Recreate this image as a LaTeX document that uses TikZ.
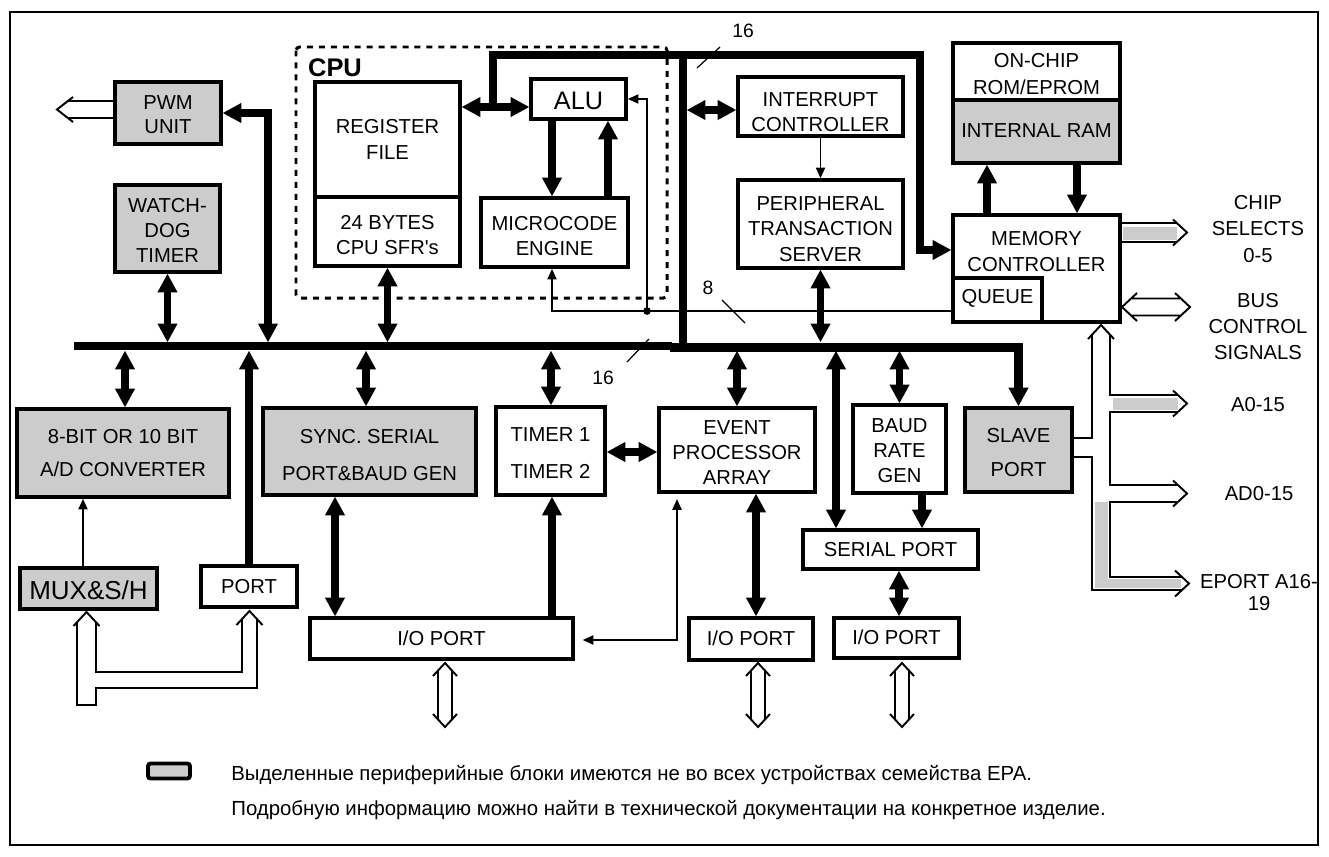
\documentclass[tikz,border=0pt]{standalone}
\usepackage{fontspec}
\setmainfont{Liberation Sans}[Ligatures=TeXOff]
\usetikzlibrary{arrows.meta}
\definecolor{boxgrey}{HTML}{CCCCCC}

\tikzset{
  fatTip/.tip={Triangle[length=10.5pt,width=11.5pt,line width=0pt]},
  slimTip/.tip={Triangle[length=6pt,width=5.5pt,line width=0pt]},
  box/.style={draw, line width=2.2pt, inner sep=0pt, fill=white},
  shaded/.style={fill=boxgrey},
  lab/.style={align=center, inner sep=0pt, font=\fontsize{11.5pt}{14.2pt}\selectfont},
  ls/.style={font=\fontsize{11.5pt}{#1}\selectfont},
  one/.style={line width=4.7pt},
  dbl/.style={line width=4.5pt, fatTip-fatTip},
  fine/.style={line width=1.1pt},
  tick/.style={line width=0.7pt},
  bus/.style={line width=4.8pt},
  vbus/.style={line width=4pt},
  hollow/.style={line width=1.1pt, line join=miter},
  num/.style={inner sep=0pt, font=\fontsize{11pt}{13pt}\selectfont},
  note/.style={anchor=base west, inner sep=0pt, font=\fontsize{11.6pt}{13pt}\selectfont},
}

% block: box options, name, x1, y1, x2, y2, text options, text shift, text
\newcommand\blk[9]{%
  \node[box,#1,minimum width={(#5-#3)*0.02cm},minimum height={(#6-#4)*0.02cm}]
    (#2) at ({(#3+#5)/2},{(#4+#6)/2}) {};
  \node[lab,#7] (#2-t) at ({(#3+#5)/2},{(#4+#6)/2+#8}) {#9};}

% two-headed hollow bus arrow hanging below an I/O port
\newcommand\hollowV[1]{%
  \draw[hollow] ({#1-7},670.6) -- ({#1-7},719.4) ({#1+7},670.6) -- ({#1+7},719.4)
    ({#1-12},676) -- (#1,663) -- ({#1+12},676)
    ({#1-12},714) -- (#1,727) -- ({#1+12},714);}

% open chevron head pointing right
\newcommand\chevR[2]{\draw[hollow] ({#1-14},{#2-13}) -- (#1,#2) -- ({#1-14},{#2+13});}

\begin{document}
\begin{tikzpicture}[x=0.02cm,y=-0.02cm]
\useasboundingbox (0,0) rectangle (1329,856);
\draw[line width=1.5pt] (10,12) rectangle (1318,845);

% bus edges
\coordinate (bT) at (0,342);
\coordinate (bB) at (0,351);

% CPU group
\draw[line width=1.7pt, dash pattern=on 3.4pt off 3.4pt, rounded corners=2pt] (296,47) rectangle (667,298);
\node[inner sep=0pt, font=\bfseries\fontsize{14.5pt}{16pt}\selectfont] (cpu) at (335,67.5) {CPU};

% blocks
\blk{shaded}{pwm}{115}{82}{221}{144}{ls=13.6pt}{2}{PWM\\UNIT}
\blk{shaded}{wd}{115}{185}{220}{272}{}{1.5}{WATCH-\\DOG\\TIMER}
\blk{}{reg}{315}{82}{460}{197}{ls=14.7pt}{0}{REGISTER\\FILE}
\blk{}{sfr}{315}{197}{460}{266}{}{4}{24 BYTES\\CPU SFR's}
\blk{}{alu}{531}{79}{626}{119}{font=\fontsize{14.4pt}{16pt}\selectfont}{1.5}{ALU}
\blk{}{mce}{481}{198}{628}{267}{ls=14.7pt}{3.5}{MICROCODE\\ENGINE}
\blk{}{ic}{738}{77}{903}{136}{ls=14.6pt}{5.5}{INTERRUPT\\CONTROLLER}
\blk{}{pts}{738}{180}{903}{268}{ls=14.5pt}{5}{PERIPHERAL\\TRANSACTION\\SERVER}
\blk{}{rom}{953}{43}{1120}{100}{ls=15pt}{2.5}{ON-CHIP\\ROM/EPROM}
\blk{shaded}{ram}{953}{100}{1120}{163}{}{-0.5}{INTERNAL RAM}
\blk{}{mc}{953}{215}{1120}{322}{ls=15pt}{-17}{MEMORY\\CONTROLLER}
\blk{}{queue}{953}{278}{1042}{322}{}{-2}{QUEUE}
\blk{shaded}{ad}{17}{409}{229}{497}{ls=19.3pt}{0}{8-BIT OR 10 BIT\\A/D CONVERTER}
\blk{shaded}{mux}{20}{568}{157}{609}{font=\fontsize{14.8pt}{16pt}\selectfont}{1.5}{MUX\&S/H}
\blk{}{port}{201}{566}{297}{607}{}{0}{PORT}
\blk{shaded}{sync}{263}{408}{476}{495}{ls=21.5pt}{3.5}{SYNC. SERIAL\\PORT\&BAUD GEN}
\blk{}{io1}{310}{618}{573}{659}{}{0}{I/O PORT}
\blk{}{tmr}{496}{407}{605}{495}{ls=21.5pt}{2}{TIMER 1\\TIMER 2}
\blk{}{epa}{659}{408}{815}{492}{}{2.5}{EVENT\\PROCESSOR\\ARRAY}
\blk{}{io2}{689}{618}{813}{660}{}{-1}{I/O PORT}
\blk{}{baud}{853}{405}{946}{493}{}{1.5}{BAUD\\RATE\\GEN}
\blk{}{ser}{803}{530}{978}{569}{}{0}{SERIAL PORT}
\blk{}{io3}{834}{618}{959}{658}{}{-1}{I/O PORT}
\blk{shaded}{slave}{965}{408}{1072}{492}{ls=19pt}{2.5}{SLAVE\\PORT}

% internal buses
\draw[bus] (74,346) -- (672,346);
\draw[bus, -fatTip] (670,347.5) -| (slave.north);
\draw[vbus] (683,55) -- (683,348);
\draw[vbus, -fatTip] (493,107) |- (920,55) -- (920,250) -- (mc.west |- 0,250);

% bus taps and block links
\draw[dbl] (wd.south) -- (wd.south |- bT);
\draw[dbl] (pwm.east) -| (268,0 |- bT);
\draw[dbl] (reg.east |- 0,107) -- (alu.west |- 0,107);
\draw[dbl] (sfr.south) -- (sfr.south |- bT);
\draw[one, -fatTip] (alu.south -| 552,0) -- (mce.north -| 552,0);
\draw[one, -fatTip] (mce.north -| 608,0) -- (alu.south -| 608,0);
\draw[dbl] (687,110) -- (ic.west |- 0,110);
\draw[fine, -slimTip] (ic.south) -- (pts.north);
\draw[dbl] (pts.south) -- (pts.south |- bT);
\draw[one, -fatTip] (mc.north -| 987,0) -- (ram.south -| 987,0);
\draw[one, -fatTip] (ram.south -| 1077,0) -- (mc.north -| 1077,0);
\draw[dbl] (ad.north -| 125,0) -- (125,0 |- bB);
\draw[one, -fatTip] (port.north) -- (port.north |- bB);
\draw[fine, -slimTip] (mux.north -| 83,0) -- (ad.south -| 83,0);
\draw[dbl] (sync.north -| 366,0) -- (366,0 |- bB);
\draw[dbl] (sync.south -| 335,0) -- (io1.north -| 335,0);
\draw[one, -fatTip] (io1.north -| 552,0) -- (tmr.south -| 552,0);
\draw[dbl] (tmr.north -| 551,0) -- (551,0 |- bB);
\draw[dbl] (tmr.east |- 0,452) -- (epa.west |- 0,452);
\draw[dbl] (epa.north) -- (epa.north |- bB);
\draw[fine, slimTip-slimTip, shorten <=4.5pt, shorten >=3pt] (io1.east |- 0,640) -| (epa.south -| 677,0);
\draw[dbl] (epa.south -| 756,0) -- (io2.north -| 756,0);
\draw[dbl] (836,0 |- bB) -- (ser.north -| 836,0);
\draw[dbl] (baud.north) -- (baud.north |- bB);
\draw[one, -fatTip] (baud.south -| 922,0) -- (ser.north -| 922,0);
\draw[dbl] (ser.south -| 899,0) -- (io3.north -| 899,0);

% 8-bit control path from the queue
\draw[fine, -slimTip] (queue.west |- 0,311) -| (mce.south -| 552,0);
\draw[fine, -slimTip] (647,311) |- (alu.east);
\fill (647,311) circle[radius=2.2pt];

% bus width marks
\node[num] (w16a) at (743,31) {16};
\draw[tick] (697,68) -- (720,47);
\node[num] (w16b) at (603,378) {16};
\draw[tick] (627,362) -- (649,339);
\node[num] (w8) at (708,288) {8};
\draw[tick] (722,300) -- (745,323);

% PWM outputs
\draw[hollow] (pwm.west |- 0,101) -- (67.9,101) (pwm.west |- 0,118) -- (67.9,118)
  (73,97) -- (57,109.5) -- (73,122);

% analog inputs to MUX and PORT
\draw[hollow] (77,622.2) -- (77,705) -- (96,705) -- (96,688) -- (257,688) -- (257,619.1);
\draw[hollow] (96,622.2) -- (96,672) -- (242,672) -- (242,619.1);
\draw[hollow] (73.5,626) -- (86.5,612) -- (99.5,626);
\draw[hollow] (236.5,625) -- (249.5,611) -- (262.5,625);

% I/O port pins
\hollowV{445}
\hollowV{758}
\hollowV{902}

% memory controller outputs
\fill[boxgrey] (1123,227) rectangle (1177,239.5);
\draw[hollow] (mc.east |- 0,223) -- (1176.8,223) (mc.east |- 0,242) -- (1176.8,242);
\chevR{1187}{232.5}
\draw[hollow] (1131.1,298.5) -- (1180.9,298.5) (1131.1,315.5) -- (1180.9,315.5)
  (1137,293) -- (1122,307) -- (1137,321) (1175,293) -- (1190,307) -- (1175,321);

% external address/data bus
\fill[boxgrey] (1113,398) rectangle (1178,410);
\fill[boxgrey] (1095,502) rectangle (1108,588);
\fill[boxgrey] (1095,579) rectangle (1181,588);
\draw[hollow] (1088,339) -- (1101,325) -- (1114,339);
\draw[hollow] (1110,334.7) -- (1110,395) -- (1177.8,395);
\draw[hollow] (1177.8,412) -- (1110,412) -- (1110,485) -- (1177.8,485);
\draw[hollow] (1177.8,502) -- (1110,502) -- (1110,577) -- (1182,577);
\draw[hollow] (1092,334.7) -- (1092,438) -- (slave.east |- 0,438);
\draw[hollow] (slave.east |- 0,457) -- (1092,457) -- (1092,590) -- (1182,590);
\chevR{1187}{403.5}
\chevR{1187}{493.5}
\chevR{1189}{583.5}

% signal names
\node[lab, ls=15pt] (cs) at (1258,229) {CHIP\\SELECTS\\0-5};
\node[lab, ls=14.8pt] (bcs) at (1258,327) {BUS\\CONTROL\\SIGNALS};
\node[lab] (a015) at (1258,405) {A0-15};
\node[lab] (ad015) at (1259,494) {AD0-15};
\node[lab, ls=12.5pt] (ep) at (1259,593) {EPORT A16-\\19};

% key
\node[box, shaded, rounded corners=1.5pt, minimum width={42*0.02cm}, minimum height={15*0.02cm}] (key) at (169,771) {};
\node[note] (note1) at (231,780)
  {Выделенные периферийные блоки имеются не во всех устройствах семейства EPA.};
\node[note] (note2) at (231,815)
  {Подробную информацию можно найти в технической документации на конкретное изделие.};
\end{tikzpicture}
\end{document}
